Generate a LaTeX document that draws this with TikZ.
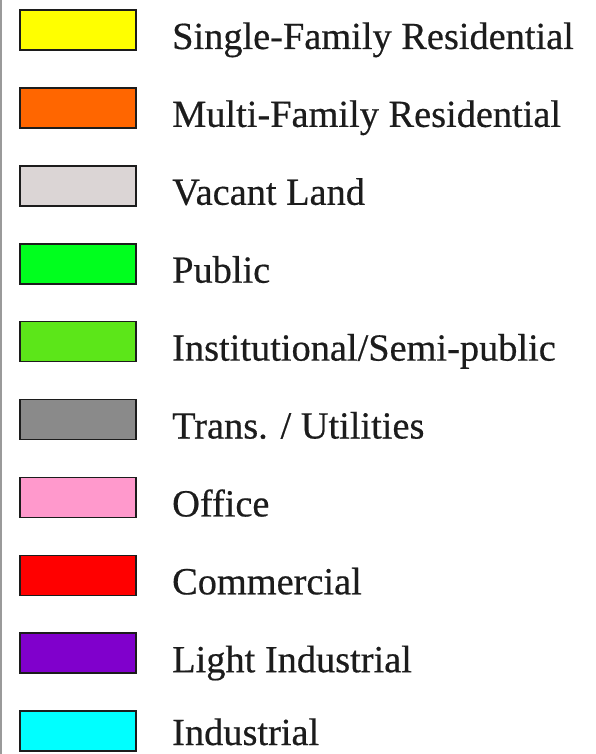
\documentclass[tikz,border=0pt]{standalone}
\usepackage{fontspec}
\setmainfont{Liberation Serif}
\newfontfamily\legendfont[FakeBold=0.5]{Liberation Serif}
\definecolor{inkblack}{HTML}{1C1C1C}
\definecolor{sfryellow}{HTML}{FFFF00}
\definecolor{mfrorange}{HTML}{FF6600}
\definecolor{vacgray}{HTML}{DBD5D5}
\definecolor{pubgreen}{HTML}{00FF1E}
\definecolor{instlime}{HTML}{5CE619}
\definecolor{transgray}{HTML}{8A8A8A}
\definecolor{offpink}{HTML}{FF99CC}
\definecolor{comred}{HTML}{FF0000}
\definecolor{lindpurple}{HTML}{8000CC}
\definecolor{indcyan}{HTML}{00FFFF}
\definecolor{edgegray}{HTML}{9A9A9A}
\usetikzlibrary{positioning}

\begin{document}
\begin{tikzpicture}[
  x=1bp, y=-1bp,
  swatch/.style={draw=inkblack, line width=1.6bp, minimum width=116bp, minimum height=40bp,
                 inner sep=0pt, outer sep=0pt},
  lbl/.style={anchor=base west, inner sep=0pt, text=inkblack,
              font=\legendfont\fontsize{38.5}{40}\selectfont}
]
\useasboundingbox (0,0) rectangle (596,754);
\draw[edgegray, line width=1.6bp] (0.8,0) -- (0.8,754);

\node[swatch, fill=sfryellow]  (single) at (78,30)    {};
\node[swatch, fill=mfrorange]  (multi)  at (78,107.9) {};
\node[swatch, fill=vacgray]    (vacant) at (78,185.8) {};
\node[swatch, fill=pubgreen]   (public) at (78,263.7) {};
\node[swatch, fill=instlime]   (inst)   at (78,341.6) {};
\node[swatch, fill=transgray]  (trans)  at (78,419.5) {};
\node[swatch, fill=offpink]    (office) at (78,497.4) {};
\node[swatch, fill=comred]     (comm)   at (78,575.3) {};
\node[swatch, fill=lindpurple] (light)  at (78,653.2) {};
\node[swatch, fill=indcyan]    (indus)  at (78,731.1) {};

\node[lbl] (single-t) at (172,49)    {Single-Family Residential};
\node[lbl] (multi-t)  at (172,126.9) {Multi-Family Residential};
\node[lbl] (vacant-t) at (172,204.8) {Vacant Land};
\node[lbl] (public-t) at (172,282.7) {Public};
\node[lbl] (inst-t)   at (172,360.6) {Institutional/Semi-public};
\node[lbl] (trans-t)  at (172,438.5) {Trans. / Utilities};
\node[lbl] (office-t) at (172,516.4) {Office};
\node[lbl] (comm-t)   at (172,594.3) {Commercial};
\node[lbl] (light-t)  at (172,672.2) {Light Industrial};
\node[lbl] (indus-t)  at (172,745) {Industrial};
\end{tikzpicture}
\end{document}
